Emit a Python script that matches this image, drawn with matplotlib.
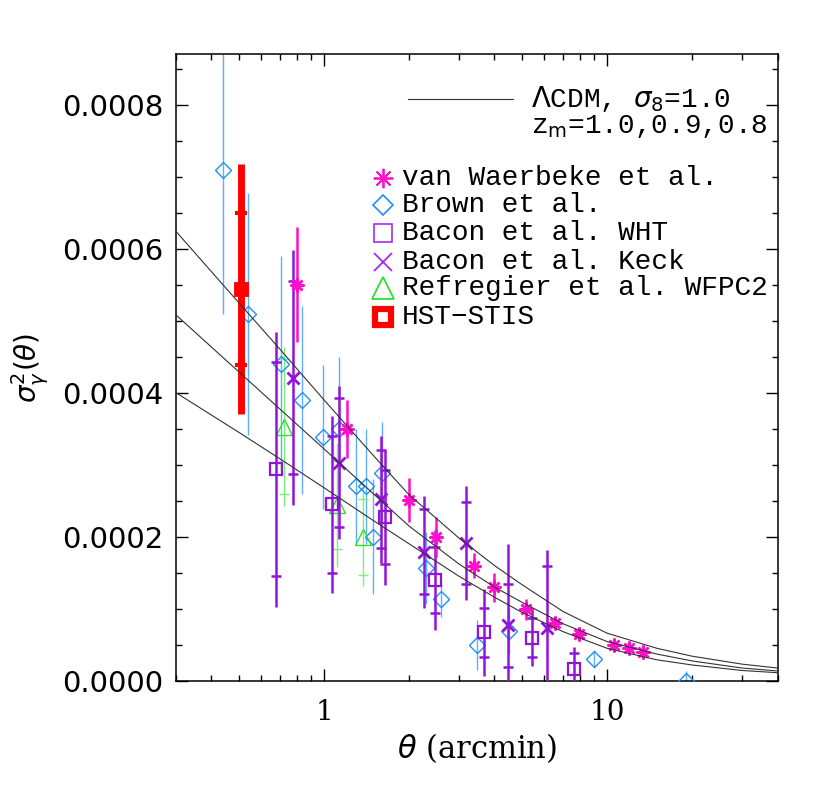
import numpy as np
import matplotlib
matplotlib.use("Agg")
import matplotlib.pyplot as plt
from matplotlib.ticker import FixedLocator, FuncFormatter, NullFormatter

plt.rcParams["mathtext.fontset"] = "dejavusans"

# ---------------- data ----------------
# Model curves (LambdaCDM, sigma8=1.0, z_m = 1.0, 0.9, 0.8)
model_x = [0.3, 0.5, 0.7, 1.0, 1.5, 2.0, 3.0, 4.0, 5.0, 7.0, 10.0, 15.0, 20.0, 30.0, 40.0]
model_top = [6.24e-4, 5.25e-4, 4.60e-4, 3.90e-4, 3.12e-4, 2.58e-4, 1.98e-4, 1.60e-4, 1.335e-4,
             9.6e-5, 6.6e-5, 4.5e-5, 3.4e-5, 2.3e-5, 1.76e-5]
model_mid = [5.08e-4, 4.29e-4, 3.77e-4, 3.22e-4, 2.59e-4, 2.146e-4, 1.62e-4, 1.30e-4, 1.09e-4,
             7.9e-5, 5.44e-5, 3.7e-5, 2.74e-5, 1.76e-5, 1.35e-5]
model_bot = [4.00e-4, 3.45e-4, 3.08e-4, 2.68e-4, 2.22e-4, 1.90e-4, 1.45e-4, 1.16e-4, 9.5e-5,
             6.8e-5, 4.5e-5, 2.9e-5, 2.18e-5, 1.42e-5, 1.11e-5]

# van Waerbeke et al.
vw_x = [0.801, 1.203, 2.0, 2.49, 3.39, 4.0, 5.17, 6.57, 7.98, 10.6, 12.0, 13.4]
vw_y = [5.50e-4, 3.50e-4, 2.51e-4, 2.00e-4, 1.60e-4, 1.30e-4, 9.9e-5, 8.0e-5, 6.5e-5, 5.0e-5, 4.5e-5, 4.0e-5]
vw_e = [8.0e-5, 4.0e-5, 3.0e-5, 2.8e-5, 1.8e-5, 2.0e-5, 1.4e-5, 8e-6, 8e-6, 5e-6, 5e-6, 4e-6]

# Brown et al.
br_x = [0.441, 0.540, 0.705, 0.834, 0.994, 1.13, 1.297, 1.41, 1.494, 1.60, 2.29, 2.60, 3.48, 4.52, 9.0, 19.0]
br_y = [7.10e-4, 5.09e-4, 4.40e-4, 3.90e-4, 3.39e-4, 3.50e-4, 2.70e-4, 2.70e-4, 2.00e-4, 2.89e-4,
        1.56e-4, 1.14e-4, 5.0e-5, 6.9e-5, 3.0e-5, 0.0]
br_e = [2.0e-4, 1.68e-4, 1.5e-4, 1.3e-4, 1.0e-4, 1.0e-4, 8e-5, 8e-5, 8e-5, 7e-5,
        5e-5, 2.5e-5, 3.5e-5, 3.2e-5, 1.2e-5, 1.4e-5]

# Bacon et al. WHT
bw_x = [0.675, 1.065, 1.643, 2.47, 3.66, 5.42, 7.64]
bw_y = [2.94e-4, 2.45e-4, 2.27e-4, 1.40e-4, 6.7e-5, 6.0e-5, 1.6e-5]
bw_e = [1.91e-4, 1.23e-4, 9.4e-5, 7.0e-5, 6.1e-5, 4.0e-5, 3.1e-5]
bw_ei = [1.48e-4, 9.5e-5, 6.5e-5, 4.6e-5, 3.4e-5, 2.7e-5, 2.3e-5]

# Bacon et al. Keck
bk_x = [0.775, 1.13, 1.585, 2.25, 3.18, 4.48, 6.15]
bk_y = [4.21e-4, 3.03e-4, 2.52e-4, 1.79e-4, 1.91e-4, 7.7e-5, 7.3e-5]
bk_e = [1.77e-4, 1.06e-4, 8.8e-5, 7.8e-5, 7.9e-5, 1.13e-4, 1.09e-4]
bk_ei = [1.34e-4, 9.0e-5, 6.8e-5, 5.9e-5, 5.7e-5, 5.8e-5, 8.6e-5]

# Refregier et al. WFPC2
rf_x = [0.722, 1.109, 1.377]
rf_y = [3.53e-4, 2.44e-4, 2.0e-4]
rf_e = [1.11e-4, 8.6e-5, 6.9e-5]
rf_ei = [9.4e-5, 6.1e-5, 5.3e-5]

# HST-STIS
hst_x = [0.508]
hst_y = [5.44e-4]
hst_e = [1.73e-4]
hst_ei = [1.06e-4]

legend_labels = ["van Waerbeke et al.", "Brown et al.", "Bacon et al. WHT",
                 "Bacon et al. Keck", "Refregier et al. WFPC2", "HST\u2212STIS"]

# ---------------- colours ----------------
C_VW = "#FF0FCB"
C_BR = "#1E8FFF"
C_BR_E = "#5FAEFF"
C_BA = "#9214D6"
C_BA_L = "#A52BEF"
C_RF = "#2FE02F"
C_RF_E = "#7AF07A"
C_HST = "#FF0000"
C_MOD = "#333333"

LEG_FONT = "Liberation Mono"

# ---------------- figure ----------------
fig = plt.figure(figsize=(8.3, 7.93), dpi=100)
ax = fig.add_axes([176 / 830, 1 - 680.7 / 793, 601.5 / 830, 626.4 / 793])
ax.set_xscale("log")
ax.set_xlim(0.3, 40)
ax.set_ylim(0, 0.00087)

# model curves
for yy in (model_top, model_mid, model_bot):
    ax.plot(model_x, yy, color=C_MOD, lw=0.8, zorder=5, solid_joinstyle="round")


def inner_ticks(x, y, ei, color, ms, mew, z):
    y = np.asarray(y)
    ei = np.asarray(ei)
    ax.plot(x, y + ei, ls="none", marker="_", ms=ms, mew=mew, color=color, zorder=z)
    ax.plot(x, y - ei, ls="none", marker="_", ms=ms, mew=mew, color=color, zorder=z)


# Brown et al.
ax.errorbar(br_x, br_y, yerr=br_e, fmt="none", ecolor=C_BR_E, elinewidth=1.0, capsize=0, zorder=2)
ax.plot(br_x, br_y, ls="none", marker="D", ms=8.5, mfc="none", mec=C_BR, mew=1.0, zorder=3)

# Refregier
ax.errorbar(rf_x, rf_y, yerr=rf_e, fmt="none", ecolor=C_RF_E, elinewidth=1.0, capsize=0, zorder=2)
inner_ticks(rf_x, rf_y, rf_ei, C_RF_E, 7, 1.0, 2)
ax.plot(rf_x, rf_y, ls="none", marker="^", ms=12, mfc="none", mec=C_RF, mew=1.0, zorder=3)

# Bacon WHT
ax.errorbar(bw_x, bw_y, yerr=bw_e, fmt="none", ecolor=C_BA, elinewidth=1.8, capsize=0, zorder=3)
inner_ticks(bw_x, bw_y, bw_ei, C_BA, 7, 1.8, 3)
ax.plot(bw_x, bw_y, ls="none", marker="s", ms=8, mfc="none", mec=C_BA, mew=1.6, zorder=4)

# Bacon Keck
ax.errorbar(bk_x, bk_y, yerr=bk_e, fmt="none", ecolor=C_BA, elinewidth=1.8, capsize=0, zorder=3)
inner_ticks(bk_x, bk_y, bk_ei, C_BA, 7, 1.8, 3)
ax.plot(bk_x, bk_y, ls="none", marker="x", ms=8, mec=C_BA, mew=2.0, zorder=4)

# van Waerbeke
ax.errorbar(vw_x, vw_y, yerr=vw_e, fmt="none", ecolor=C_VW, elinewidth=1.8, capsize=0, zorder=3)
ax.plot(vw_x, vw_y, ls="none", marker=(8, 2, 0), ms=10, mec=C_VW, mew=1.8, zorder=4)

# HST-STIS
ax.errorbar(hst_x, hst_y, yerr=hst_e, fmt="none", ecolor=C_HST, elinewidth=5, capsize=0, zorder=4)
inner_ticks(hst_x, hst_y, hst_ei, C_HST, 9, 3.0, 4)
ax.plot(hst_x, hst_y, ls="none", marker="s", ms=7.5, mfc="none", mec=C_HST, mew=3.5, zorder=5)

# ---------------- axes styling ----------------
for s in ax.spines.values():
    s.set_linewidth(1.1)
ax.xaxis.set_major_locator(FixedLocator([1, 10]))
ax.xaxis.set_minor_locator(FixedLocator([0.3, 0.4, 0.5, 0.6, 0.7, 0.8, 0.9,
                                         2, 3, 4, 5, 6, 7, 8, 9, 20, 30, 40]))
ax.xaxis.set_minor_formatter(NullFormatter())
ax.xaxis.set_major_formatter(FuncFormatter(lambda v, p: "%d" % round(v)))
ax.yaxis.set_major_locator(FixedLocator([0, 0.0002, 0.0004, 0.0006, 0.0008]))
ax.yaxis.set_minor_locator(FixedLocator(np.arange(0, 0.00087, 0.00005)))
ax.yaxis.set_major_formatter(FuncFormatter(lambda v, p: "%.4f" % v))
ax.tick_params(which="both", direction="in", top=True, right=True, width=1.0)
ax.tick_params(which="major", length=8.5)
ax.tick_params(which="minor", length=4.5)
ax.tick_params(axis="x", which="major", pad=13)
ax.tick_params(axis="y", which="major", pad=9)
for lab in ax.get_xticklabels():
    lab.set_fontfamily("DejaVu Serif")
    lab.set_fontsize(20)
for lab in ax.get_yticklabels():
    lab.set_fontfamily("DejaVu Sans")
    lab.set_fontsize(21)

ax.set_xlabel(r"$\theta$ (arcmin)", fontsize=22, family="DejaVu Serif", labelpad=4)
ax.set_ylabel(r"$\sigma^2_{\gamma}(\theta)$", fontsize=20, labelpad=8)

# ---------------- legend (drawn in axes coordinates) ----------------
tr = ax.transAxes
ax.plot([(408 - 176) / 601.5, (513 - 176) / 601.5], [(680.7 - 98.5) / 626.4] * 2,
        color=C_MOD, lw=0.8, transform=tr, clip_on=False)
ax.text((531 - 176) / 601.5, (680.7 - 98.5) / 626.4, r"$\Lambda$CDM, $\sigma_8$=1.0",
        transform=tr, fontsize=20, family=LEG_FONT, va="center", ha="left")
ax.text((531 - 176) / 601.5, (680.7 - 126.5) / 626.4, r"z$_\mathrm{m}$=1.0,0.9,0.8",
        transform=tr, fontsize=20, family=LEG_FONT, va="center", ha="left")

rows_y = [178.3, 205.0, 233.3, 261.7, 288.3, 316.7]
mk_x = (382.7 - 176) / 601.5
tx_x = (401.5 - 176) / 601.5
styles = [
    dict(marker=(8, 2, 0), ms=14, mec=C_VW, mew=1.3, mfc="none"),
    dict(marker="D", ms=10.5, mec=C_BR, mew=1.2, mfc="none"),
    dict(marker="s", ms=12.5, mec=C_BA_L, mew=1.2, mfc="none"),
    dict(marker="x", ms=12.5, mec=C_BA_L, mew=1.3),
    dict(marker="^", ms=16, mec=C_RF, mew=1.3, mfc="none"),
    dict(marker="s", ms=11, mec=C_HST, mew=4.5, mfc="none"),
]
for ry, st, lab in zip(rows_y, styles, legend_labels):
    fy = (680.7 - ry) / 626.4
    ax.plot([mk_x], [fy], ls="none", transform=tr, clip_on=False, **st)
    ax.text(tx_x, fy, lab, transform=tr, fontsize=20, family=LEG_FONT,
            va="center", ha="left")

fig.savefig("out.png", dpi=100)
